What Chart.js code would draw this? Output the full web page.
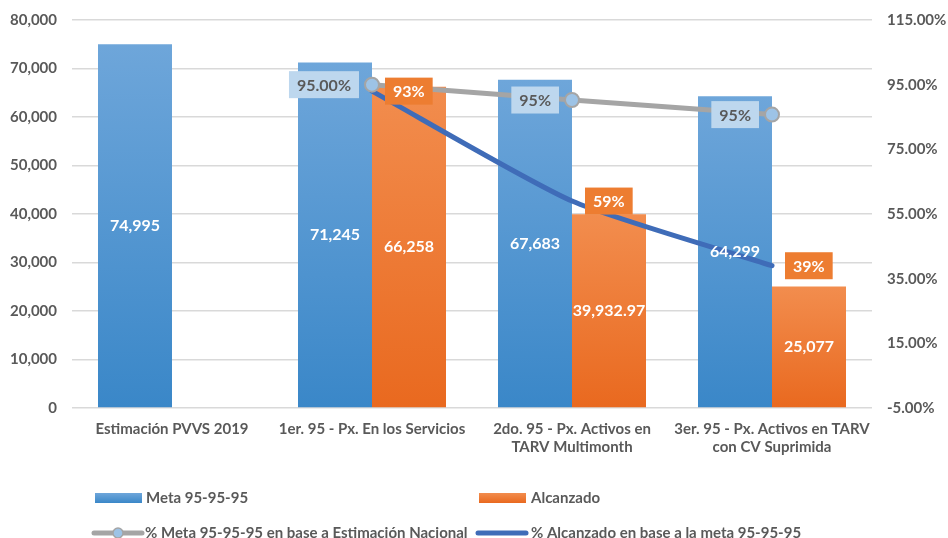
<!DOCTYPE html>
<html>
<head>
<meta charset="utf-8">
<script src="https://cdn.jsdelivr.net/npm/chart.js@4.4.1/dist/chart.umd.min.js"></script>
<style>
  html, body { margin: 0; padding: 0; background: #fff; }
  #wrap { width: 948px; height: 538px; position: relative; }
</style>
</head>
<body>
<div id="wrap"><canvas id="chart"></canvas></div>
<script>
// ── Data ─────────────────────────────────────────────
const categories = [
  'Estimación PVVS 2019',
  '1er. 95 - Px. En los Servicios',
  ['2do. 95 - Px. Activos en', 'TARV Multimonth'],
  ['3er. 95 - Px. Activos en TARV', 'con CV Suprimida']
];
const meta      = [74995, 71245, 67683, 64299];
const alcanzado = [null, 66258, 39932.97, 25077];
// % meta vs estimación nacional (plotted position) and its shown labels
const pctMeta       = [null, 95, 90.25, 85.74];
const pctMetaLabels = ['', '95.00%', '95%', '95%'];
// % alcanzado vs meta
const pctAlc       = [null, 93, 59, 39];
const pctAlcLabels = ['', '93%', '59%', '39%'];

const leftTicks  = [0, 10000, 20000, 30000, 40000, 50000, 60000, 70000, 80000];
const rightTicks = [-5, 15, 35, 55, 75, 95, 115];

const seriesNames = [
  'Meta 95-95-95',
  'Alcanzado',
  '% Meta 95-95-95 en base a Estimación Nacional',
  '% Alcanzado en base a la meta 95-95-95'
];

// ── Style ────────────────────────────────────────────
const FONT     = 'Lato, "Open Sans", sans-serif';
const TEXT     = '#595959';
const GRID     = '#d9d9d9';
const BLUE_TOP = '#6ea6da', BLUE_BOT = '#3a87c8';
const ORG_TOP  = '#f28d4e', ORG_BOT  = '#e9691f';
const GRAY     = '#a5a5a5';
const LINEBLUE = '#3f6cb8';

function barGradient(c, top, bottom) {
  const chart = c.chart;
  if (!chart.chartArea || c.type !== 'data' || c.raw == null) return bottom;
  const ys = chart.scales.y;
  const y0 = ys.getPixelForValue(c.raw), y1 = ys.getPixelForValue(0);
  const g = chart.ctx.createLinearGradient(0, y0, 0, y1);
  g.addColorStop(0, top);
  g.addColorStop(1, bottom);
  return g;
}

function fmtNum(v) {
  return Number.isInteger(v)
    ? v.toLocaleString('en-US')
    : v.toLocaleString('en-US', { minimumFractionDigits: 2, maximumFractionDigits: 2 });
}

// value labels + boxed percentage labels
const labelPlugin = {
  id: 'labels',
  afterDatasetsDraw(chart) {
    const ctx = chart.ctx;
    ctx.save();
    ctx.font = 'bold 16px ' + FONT;
    ctx.textBaseline = 'middle';
    ctx.textAlign = 'center';
    [0, 1].forEach(di => {
      const data = chart.data.datasets[di].data;
      chart.getDatasetMeta(di).data.forEach((el, i) => {
        if (data[i] == null) return;
        ctx.fillStyle = '#ffffff';
        ctx.fillText(fmtNum(data[i]), el.x, (el.y + el.base) / 2);
      });
    });
    const box = (text, x, y, side, fill, color) => {
      const w = ctx.measureText(text).width + 16, h = 27;
      const left = side === 'left' ? x - 13 - w : x + 13;
      ctx.fillStyle = fill;
      ctx.fillRect(left, y - h / 2, w, h);
      ctx.fillStyle = color;
      ctx.fillText(text, left + w / 2, y + 1);
    };
    chart.getDatasetMeta(2).data.forEach((el, i) => {
      if (pctMeta[i] == null) return;
      box(pctMetaLabels[i], el.x, el.y, 'left', '#bdd7ee', TEXT);
    });
    chart.getDatasetMeta(3).data.forEach((el, i) => {
      if (pctAlc[i] == null) return;
      box(pctAlcLabels[i], el.x, el.y, 'right', '#ed7d31', '#ffffff');
    });
    ctx.restore();
  }
};

// two-row legend at the bottom
const legendPlugin = {
  id: 'legend2',
  afterDraw(chart) {
    const ctx = chart.ctx;
    ctx.save();
    ctx.font = 'bold 15px ' + FONT;
    ctx.textBaseline = 'middle';
    ctx.textAlign = 'left';
    const rect = (x, y, top, bot) => {
      const g = ctx.createLinearGradient(0, y - 5, 0, y + 5);
      g.addColorStop(0, top); g.addColorStop(1, bot);
      ctx.fillStyle = g;
      ctx.fillRect(x, y - 5, 47, 10);
    };
    const line = (x, y, color) => {
      ctx.strokeStyle = color; ctx.lineWidth = 5; ctx.lineCap = 'round';
      ctx.beginPath(); ctx.moveTo(x, y); ctx.lineTo(x + 48, y); ctx.stroke();
    };
    const r1 = 498, r2 = 533;
    rect(95, r1, BLUE_TOP, BLUE_BOT);
    ctx.fillStyle = TEXT; ctx.fillText(seriesNames[0], 146, r1);
    rect(479, r1, ORG_TOP, ORG_BOT);
    ctx.fillStyle = TEXT; ctx.fillText(seriesNames[1], 531, r1);

    line(94, r2, GRAY);
    ctx.beginPath(); ctx.arc(118, r2, 5, 0, Math.PI * 2);
    ctx.fillStyle = '#9dc3e6'; ctx.fill();
    ctx.lineWidth = 1.5; ctx.strokeStyle = GRAY; ctx.stroke();
    ctx.fillStyle = TEXT; ctx.fillText(seriesNames[2], 145, r2);
    line(478, r2, LINEBLUE);
    ctx.fillStyle = TEXT; ctx.fillText(seriesNames[3], 531, r2);
    ctx.restore();
  }
};

// small lineHeight keeps the tick padding from pushing the plot area down
const tickFont = { family: FONT, size: 15, weight: 'bold', lineHeight: 0.5 };

new Chart(document.getElementById('chart'), {
  type: 'bar',
  data: {
    labels: categories,
    datasets: [
      {
        label: seriesNames[0], data: meta, order: 2, yAxisID: 'y',
        backgroundColor: c => barGradient(c, BLUE_TOP, BLUE_BOT),
        categoryPercentage: 0.74, barPercentage: 1
      },
      {
        label: seriesNames[1], data: alcanzado, order: 2, yAxisID: 'y',
        backgroundColor: c => barGradient(c, ORG_TOP, ORG_BOT),
        categoryPercentage: 0.74, barPercentage: 1
      },
      {
        type: 'line', label: seriesNames[2], data: pctMeta, order: 0, yAxisID: 'y1',
        borderColor: GRAY, borderWidth: 5, tension: 0,
        pointRadius: 7, pointBackgroundColor: '#9dc3e6', pointBorderColor: GRAY, pointBorderWidth: 2
      },
      {
        type: 'line', label: seriesNames[3], data: pctAlc, order: 1, yAxisID: 'y1',
        borderColor: LINEBLUE, borderWidth: 5, tension: 0.2, borderCapStyle: 'round',
        pointRadius: 0
      }
    ]
  },
  options: {
    responsive: true,
    maintainAspectRatio: false,
    animation: false,
    layout: { padding: { top: 20, bottom: 0, left: 0, right: 0 } },
    plugins: { legend: { display: false }, tooltip: { enabled: false } },
    scales: {
      x: {
        grid: { display: false, drawTicks: false },
        border: { display: false },
        ticks: { color: TEXT, font: { family: FONT, size: 15, weight: 'bold' }, padding: 12, maxRotation: 0, autoSkip: false },
        afterFit: s => { s.height = 130; }
      },
      y: {
        position: 'left', min: 0, max: 80000,
        afterBuildTicks: s => { s.ticks = leftTicks.map(v => ({ value: v })); },
        grid: { color: GRID, lineWidth: 1.5, drawTicks: false },
        border: { display: false },
        ticks: { color: TEXT, font: tickFont, padding: 15,
                 callback: v => v.toLocaleString('en-US') },
        afterFit: s => { s.width = 72; }
      },
      y1: {
        position: 'right', min: -5, max: 115,
        afterBuildTicks: s => { s.ticks = rightTicks.map(v => ({ value: v })); },
        grid: { display: false, drawTicks: false },
        border: { display: false },
        ticks: { color: TEXT, font: tickFont, padding: 15,
                 callback: v => v.toFixed(2) + '%' },
        afterFit: s => { s.width = 76; }
      }
    }
  },
  plugins: [labelPlugin, legendPlugin]
});
</script>
</body>
</html>
